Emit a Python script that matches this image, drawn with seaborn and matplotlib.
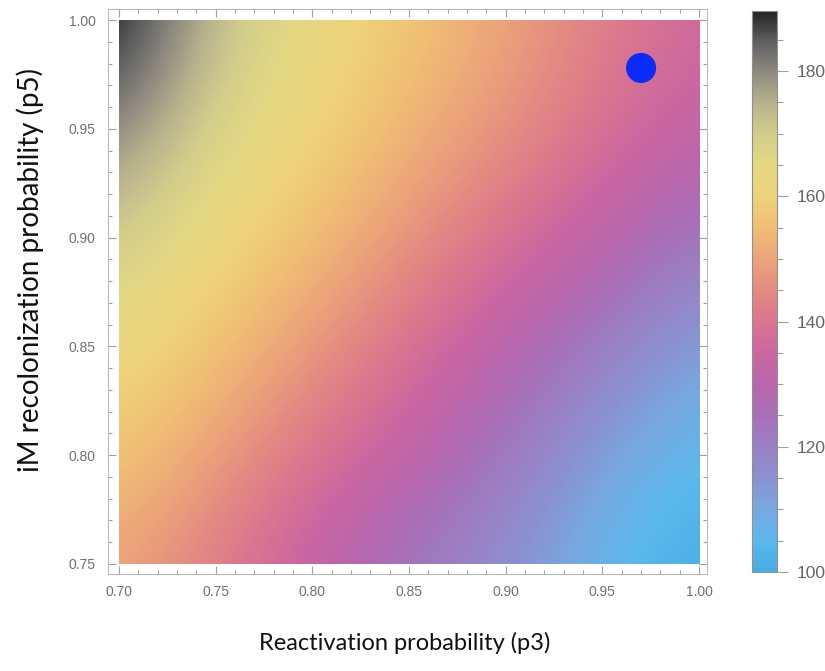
import numpy as np
import pandas as pd
import matplotlib
matplotlib.use("Agg")
import matplotlib.pyplot as plt
import seaborn as sns
from matplotlib.colors import LinearSegmentedColormap, Normalize
from matplotlib.ticker import MultipleLocator
from matplotlib.patches import Rectangle

# ---- data ----
p3_values = [0.70, 0.75, 0.80, 0.85, 0.90, 0.95, 1.00]
p5_values = [0.75, 0.80, 0.85, 0.90, 0.95, 1.00]
row_075 = [150, 142, 132, 122, 115, 106, 100]
row_080 = [157, 149, 140, 132, 122, 111, 105]
row_085 = [163, 156, 148, 139, 130, 120, 111]
row_090 = [171, 162, 155, 147, 139, 131, 122]
row_095 = [181, 168, 161, 153, 147, 139, 132]
row_100 = [192, 173, 164, 157, 150, 143, 136]

marker_p3 = [0.97]
marker_p5 = [0.978]

x_ticks = [0.70, 0.75, 0.80, 0.85, 0.90, 0.95, 1.00]
y_ticks = [0.75, 0.80, 0.85, 0.90, 0.95, 1.00]
cbar_ticks = [100, 120, 140, 160, 180]
cbar_min, cbar_max = 100, 189.6

cmap_values = [100, 105, 110, 115, 120, 125, 130, 135, 140, 145, 150, 155,
               160, 165, 170, 175, 180, 185, 189.6]
cmap_colors = ["#49ADE5", "#5BB8EC", "#78A8E0", "#8C90D0", "#9A80C4", "#A870B8",
               "#BA66AC", "#CC67A0", "#DA7590", "#E48A82", "#ECA47A", "#F0BE74",
               "#EED27A", "#E4D882", "#D4CE8C", "#B8B28C", "#8E8A80", "#5E5E60",
               "#262626"]

sns.set_theme(style="white")
plt.rcParams['font.family'] = ['Liberation Sans', 'DejaVu Sans']

stops = [((v - cbar_min) / (cbar_max - cbar_min), c) for v, c in zip(cmap_values, cmap_colors)]
cmap = LinearSegmentedColormap.from_list("mma", stops)
norm = Normalize(vmin=cbar_min, vmax=cbar_max)

Z = np.array([row_075, row_080, row_085, row_090, row_095, row_100], dtype=float)
dx = (p3_values[1] - p3_values[0]) / 2
dy = (p5_values[1] - p5_values[0]) / 2

fig = plt.figure(figsize=(8.25, 6.71), dpi=100)
ax = fig.add_axes([108/825, 1 - 574/671, 599/825, 565/671])
im = ax.imshow(Z, origin="lower", cmap=cmap, norm=norm, interpolation="bicubic",
               extent=[p3_values[0] - dx, p3_values[-1] + dx, p5_values[0] - dy, p5_values[-1] + dy],
               aspect="auto")
clip = Rectangle((p3_values[0], p5_values[0]), p3_values[-1] - p3_values[0],
                 p5_values[-1] - p5_values[0], transform=ax.transData, facecolor="none",
                 edgecolor="none")
ax.add_patch(clip)
im.set_clip_path(clip)

df = pd.DataFrame({"p3": marker_p3, "p5": marker_p5})
sns.scatterplot(data=df, x="p3", y="p5", s=470, color="#0B2CF6", edgecolor="none",
                linewidth=0, ax=ax, legend=False, zorder=5)

ax.set_xlim(0.6943, 1.0041)
ax.set_ylim(0.7454, 1.0051)
ax.set_xlabel("")
ax.set_ylabel("")
ax.set_xticks(x_ticks)
ax.set_yticks(y_ticks)
ax.set_xticklabels([f"{t:.2f}" for t in x_ticks])
ax.set_yticklabels([f"{t:.2f}" for t in y_ticks])
ax.xaxis.set_minor_locator(MultipleLocator(0.01))
ax.yaxis.set_minor_locator(MultipleLocator(0.01))
ax.tick_params(which="both", direction="in", top=True, right=True, bottom=True, left=True,
               color="#A0A0A0", labelcolor="#707070", labelsize=10, width=0.8)
ax.tick_params(which="major", length=6, pad=9)
ax.tick_params(which="minor", length=3)
ax.tick_params(axis="x", which="major", pad=8)
for s in ax.spines.values():
    s.set_color("#B8B8B8")
    s.set_linewidth(0.8)
ax.set_facecolor("white")

cax = fig.add_axes([752/825, 1 - 572/671, 25/825, 561/671])
sm = plt.cm.ScalarMappable(cmap=cmap, norm=norm)
cb = fig.colorbar(sm, cax=cax)
cb.set_ticks(cbar_ticks)
cb.ax.yaxis.set_minor_locator(MultipleLocator(5))
cb.ax.tick_params(which="both", direction="out", color="#A0A0A0", labelcolor="#666666",
                  labelsize=12.5, width=0.8)
cb.ax.tick_params(which="major", length=8, pad=6)
cb.ax.tick_params(which="minor", length=4)
cb.outline.set_edgecolor("#909090")
cb.outline.set_linewidth(0.8)

fig.text(405/825, 1 - 643/671, "Reactivation probability (p3)", ha="center", va="center",
         fontsize=17, family=["Lato", "DejaVu Sans"], color="#111111")
fig.text(30/825, 1 - 270/671, "iM recolonization probability (p5)", ha="center", va="center",
         rotation=90, fontsize=20, family=["Lato", "DejaVu Sans"], color="#111111")

fig.savefig("out.png", dpi=100)
